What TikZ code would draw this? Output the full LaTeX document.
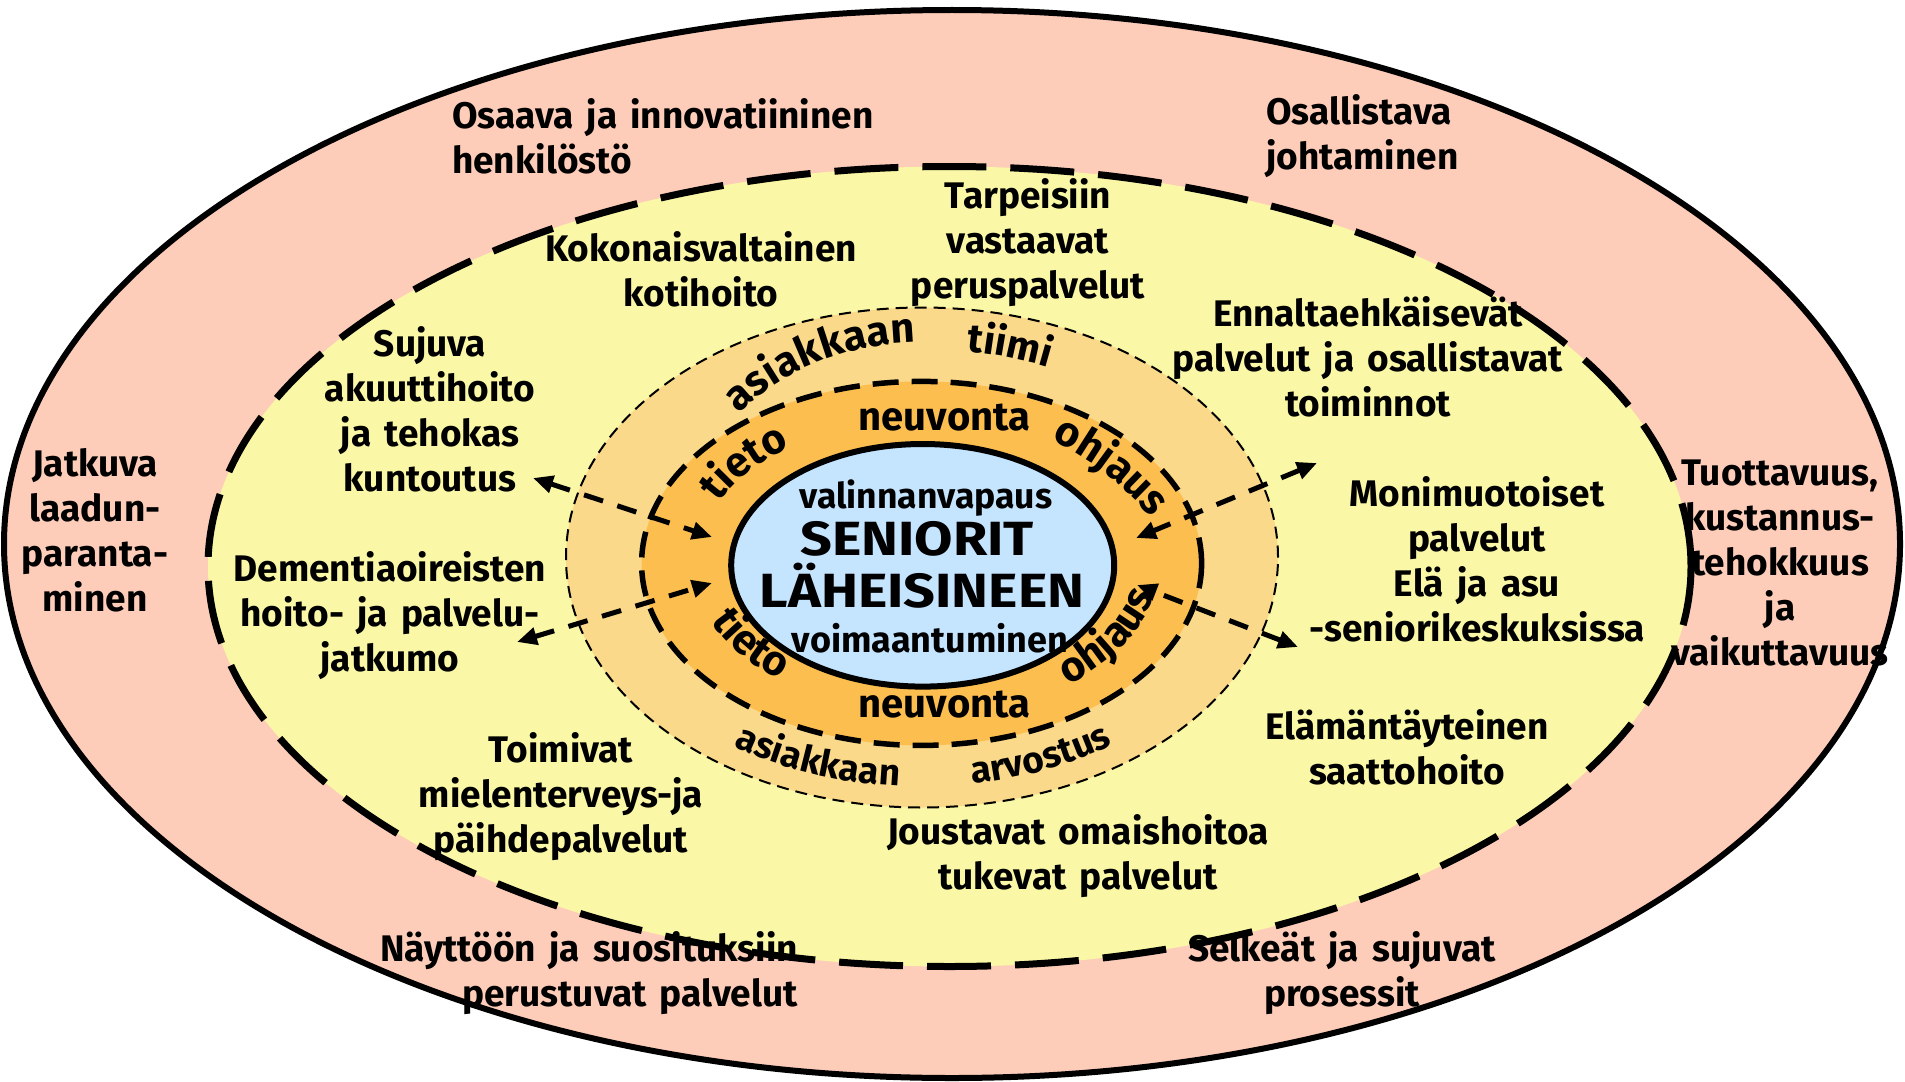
\documentclass[tikz,border=0pt]{standalone}
\usepackage{fontspec}
\setmainfont{Fira Sans}[WordSpace=1.5]
\usetikzlibrary{arrows.meta,decorations.text,calc}
\definecolor{salmonbg}{HTML}{FDCDB9}
\definecolor{yellowbg}{HTML}{FAF8A6}
\definecolor{lightor}{HTML}{FBD98A}
\definecolor{midor}{HTML}{FDBE50}
\definecolor{bluebg}{HTML}{C5E5FF}
\newcommand\ringbig{\fontsize{42}{42}\selectfont\bfseries}
\newcommand\ringtii{\fontsize{40}{40}\selectfont\bfseries}
\newcommand\ringsmall{\fontsize{37}{37}\selectfont\bfseries}
\newcommand\ringmid{\fontsize{42}{42}\selectfont\bfseries}
\begin{document}
\begin{tikzpicture}[x=1pt,y=1pt,
  lbl/.style={font=\fontsize{37}{45}\selectfont\bfseries, align=center, inner sep=0pt},
  ctr/.style={font=\fontsize{35.5}{40}\selectfont\bfseries, inner sep=0pt, anchor=base},
  big/.style={font=\fontsize{48}{50}\selectfont\bfseries, inner sep=0pt, anchor=base},
  link/.style={line width=5pt, dash pattern=on 20pt off 15pt,
    {Triangle[length=20pt,width=17pt]}-{Triangle[length=20pt,width=17pt]}},
  ringtext/.style={decorate, decoration={text along path, text align=center, text={#1}}}
]
\useasboundingbox (0,-1081) rectangle (1905,0);
% ellipses
\filldraw[fill=salmonbg, draw=black, line width=6pt] (952,-544) ellipse[x radius=948pt, y radius=534pt];
\fill[yellowbg] (949.5,-566.5) ellipse[x radius=741.5pt, y radius=400pt];
\draw[line width=7pt, dash pattern=on 64pt off 24pt] (949.5,-566.5) ellipse[x radius=741.5pt, y radius=400pt];
\filldraw[fill=lightor, draw=black, line width=2pt, dash pattern=on 12pt off 7pt] (922,-557.5) ellipse[x radius=356pt, y radius=250pt];
\filldraw[fill=midor, draw=black, line width=5.5pt, dash pattern=on 26pt off 13pt] (921.6,-563.4) ellipse[x radius=280pt, y radius=182pt];
\filldraw[fill=bluebg, draw=black, line width=6pt] (922.7,-565.3) ellipse[x radius=191.5pt, y radius=121.3pt];

% outer ring texts
\node[lbl, align=left, anchor=west] (osaava) at (452,-136.5) {Osaava ja innovatiininen\\henkilöstö};
\node[lbl, align=left, anchor=west] (osallistava) at (1266,-136.5) {Osallistava\\johtaminen};
\node[lbl] (jatkuva) at (95,-530) {Jatkuva\\laadun-\\paranta-\\minen};
\node[lbl] (tuottavuus) at (1780,-563) {Tuottavuus,\\kustannus-\\tehokkuus\\ja\\vaikuttavuus};
\node[lbl, align=right, anchor=east] (nayttoon) at (798,-973.5) {Näyttöön ja suosituksiin\\perustuvat palvelut};
\node[lbl] (selkeat) at (1342,-973.5) {Selkeät ja sujuvat\\prosessit};

% yellow ring texts
\node[lbl] (tarpeisiin) at (1028,-243) {Tarpeisiin\\vastaavat\\peruspalvelut};
\node[lbl] (kokonais) at (701,-269.5) {Kokonaisvaltainen\\kotihoito};
\node[lbl] (ennalta) at (1368,-357) {Ennaltaehkäisevät\\palvelut ja osallistavat\\toiminnot};
\node[lbl] (sujuva) at (430,-409) {Sujuva\\akuuttihoito\\ja tehokas\\kuntoutus};
\node[lbl] (monimuotoiset) at (1477,-559.5) {Monimuotoiset\\palvelut\\Elä ja asu\\-seniorikeskuksissa};
\node[lbl] (dementia) at (390,-616) {Dementiaoireisten\\hoito- ja palvelu-\\jatkumo};
\node[lbl] (toimivat) at (561,-797) {Toimivat\\mielenterveys-ja\\päihdepalvelut};
\node[lbl] (elaman) at (1407,-747) {Elämäntäyteinen\\saattohoito};
\node[lbl] (joustavat) at (1078,-856) {Joustavat omaishoitoa\\tukevat palvelut};

% light orange ring words
\path[ringtext={|\ringbig|asiakkaan}] ($(922,-557.5)+(145:247pt and 215pt)$) arc[start angle=145, end angle=85, x radius=247pt, y radius=215pt];
\path[ringtext={|\ringtii|tiimi}] ($(922,-557.5)+(100:311pt and 208pt)$) arc[start angle=100, end angle=46, x radius=311pt, y radius=208pt];
\path[ringtext={|\ringsmall|asiakkaan}] ($(922,-557.5)+(222:333pt and 229pt)$) arc[start angle=222, end angle=278, x radius=333pt, y radius=229pt];
\path[ringtext={|\ringsmall|arvostus}] ($(922,-557.5)+(265:331pt and 229pt)$) arc[start angle=265, end angle=321, x radius=331pt, y radius=229pt];

% middle orange ring words
\path[ringtext={|\ringmid|tieto}] ($(921.6,-563.4)+(173:224pt and 144pt)$) arc[start angle=173, end angle=113, x radius=224pt, y radius=144pt];
\path[ringtext={|\ringmid|ohjaus}] ($(927,-702)+(85:290pt)$) arc[start angle=85, end angle=19, radius=290pt];
\path[ringtext={|\ringmid|tieto}] ($(921.6,-563.4)+(185:229pt and 148pt)$) arc[start angle=185, end angle=245, x radius=229pt, y radius=148pt];
\path[ringtext={|\ringmid|ohjaus}] ($(921.6,-563.4)+(298:238pt and 154pt)$) arc[start angle=298, end angle=362, x radius=238pt, y radius=154pt];
\node[ctr, font=\fontsize{40}{40}\selectfont\bfseries] (neuvtop) at (944.5,-430.7) {neuvonta};
\node[ctr, font=\fontsize{40}{40}\selectfont\bfseries] (neuvbot) at (944.5,-717) {neuvonta};

% centre
\node[ctr] (valinn) at (926,-508) {valinnanvapaus};
\node[big] (seniorit) at (917,-555) {\scalebox{1.16}[1]{SENIORIT}};
\node[big] (laheis) at (922,-607) {\scalebox{1.16}[1]{LÄHEISINEEN}};
\node[ctr, font=\fontsize{36}{40}\selectfont\bfseries] (voima) at (930,-652.7) {voimaantuminen};

% arrows
\coordinate (a1o) at (533,-478);
\coordinate (a1i) at (712,-537);
\coordinate (a2o) at (517,-642);
\coordinate (a2i) at (712,-583);
\coordinate (a3o) at (1317,-463);
\coordinate (a3i) at (1136,-538);
\coordinate (a4o) at (1298,-647);
\coordinate (a4i) at (1137,-585);
\draw[link] (a1o) -- (a1i);
\draw[link] (a2o) -- (a2i);
\draw[link] (a3o) -- (a3i);
\draw[link] (a4o) -- (a4i);
\end{tikzpicture}
\end{document}
